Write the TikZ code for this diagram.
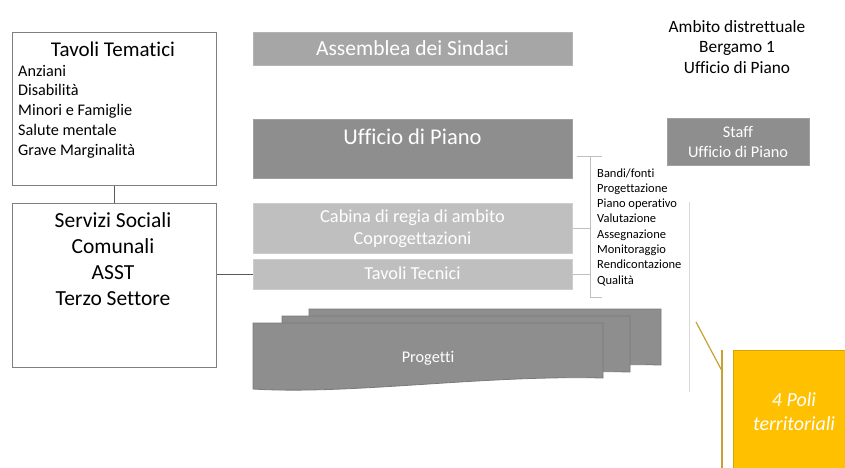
\documentclass[tikz,border=0pt]{standalone}
\usepackage{fontspec}
\setmainfont{Carlito}[Ligatures=CommonOff]
\definecolor{boxline}{HTML}{7F7F7F}
\definecolor{connc}{HTML}{595959}
\definecolor{lightc}{HTML}{BFBFBF}
\definecolor{gLL}{HTML}{D9D9D9}
\definecolor{gA}{HTML}{A6A6A6}
\definecolor{gAd}{HTML}{B4B4B4}
\definecolor{gB}{HTML}{8E8E8E}
\definecolor{gBd}{HTML}{A0A0A0}
\definecolor{gC}{HTML}{BFBFBF}
\definecolor{gCd}{HTML}{CDCDCD}
\definecolor{gP}{HTML}{8E8E8E}
\definecolor{gPd}{HTML}{7A7A7A}
\definecolor{gold}{HTML}{FFC000}
\definecolor{goldd}{HTML}{D9A400}
\definecolor{goldl}{HTML}{C9A035}
\begin{document}
\begin{tikzpicture}[x=1pt,y=-1pt,
  wbox/.style={draw=boxline, line width=1.3pt, fill=white, inner sep=0pt, anchor=north west},
  gbox/.style={inner sep=0pt, anchor=north west, line width=0.8pt},
  wtxt/.style={text=white, inner sep=0pt},
  btxt/.style={text=black, inner sep=0pt},
  conn/.style={draw=connc, line width=1pt},
  lconn/.style={draw=lightc, line width=1pt},
  goldline/.style={draw=goldl, line width=1.2pt},
  sheet/.style={fill=gP, draw=gPd, line width=0.8pt}
]
\useasboundingbox (0,0) rectangle (845,467);

% left white boxes
\node[wbox, minimum width=204pt, minimum height=153pt] (tem) at (12,32) {};
\node[btxt, anchor=base, font=\fontsize{21}{25}\selectfont] (temt) at (113,56) {Tavoli Tematici};
\node[btxt, anchor=base west, align=left, font=\fontsize{16.2}{19.75}\selectfont] (teml) at (18,155) {Anziani\\Disabilità\\Minori e Famiglie\\Salute mentale\\Grave Marginalità};

\node[wbox, minimum width=204pt, minimum height=164pt] (ser) at (12,203) {};
\node[btxt, anchor=base, align=center, font=\fontsize{21.5}{26.2}\selectfont] (sert) at (113,305.6) {Servizi Sociali\\Comunali\\ASST\\Terzo Settore};

% central grey boxes
\node[gbox, fill=gA, draw=gAd, minimum width=319pt, minimum height=33pt] (ass) at (253,32) {};
\node[wtxt, anchor=base, font=\fontsize{21.5}{26}\selectfont] (asst) at (412.5,55) {Assemblea dei Sindaci};

\node[gbox, fill=gB, draw=gBd, minimum width=319pt, minimum height=59pt] (uff) at (253,119) {};
\node[wtxt, anchor=base, font=\fontsize{22.5}{27}\selectfont] (ufft) at (412.5,144) {Ufficio di Piano};

\node[gbox, fill=gC, draw=gCd, minimum width=319pt, minimum height=50pt] (cab) at (253,203) {};
\node[wtxt, anchor=base, align=center, font=\fontsize{18.3}{22}\selectfont] (cabt) at (412.5,244) {Cabina di regia di ambito\\Coprogettazioni};

\node[gbox, fill=gC, draw=gCd, minimum width=319pt, minimum height=30pt] (tec) at (253,259) {};
\node[wtxt, anchor=base, font=\fontsize{18.3}{22}\selectfont] (tect) at (412.5,279) {Tavoli Tecnici};

% connectors left
\draw[conn] (tem.south) -- (ser.north);
\draw[conn] (ser.east |- tec.west) -- (tec.west);

% staff and title
\node[gbox, fill=gB, draw=gBd, minimum width=142pt, minimum height=47pt] (stf) at (667,118) {};
\node[wtxt, anchor=base, align=center, font=\fontsize{16.3}{20.5}\selectfont] (stft) at (738,157.5) {Staff\\Ufficio di Piano};
\node[btxt, anchor=base, align=center, font=\fontsize{17.3}{20.7}\selectfont] (amb) at (737,73.4) {Ambito distrettuale\\Bergamo 1\\Ufficio di Piano};

% bracket
\coordinate (btl) at (577,156);
\coordinate (btr) at (602,156);
\coordinate (bt) at (590,156);
\coordinate (bb) at (590,297);
\coordinate (bbr) at (602,297);
\draw[lconn] (btl) -- (btr);
\draw[lconn] (bt) -- (bb) -- (bbr);
\draw[lconn] (cab.east) -- (cab.east -| bt);
\draw[lconn] (tec.east) -- (tec.east -| bt);
\node[btxt, anchor=base west, align=left, font=\fontsize{12.5}{15.3}\selectfont] (lst) at (597,284.1) {Bandi/fonti\\Progettazione\\Piano operativo\\Valutazione\\Assegnazione\\Monitoraggio\\Rendicontazione\\Qualità};

\coordinate (v1) at (689,202);
\coordinate (v2) at (689,392);
\draw[draw=gLL, line width=1pt] (v1) -- (v2);

% progetti sheets
\foreach \L/\R/\T/\B in {309/661/309/365, 282/630/316/372, 253/603/323/378}
  \filldraw[sheet] (\L,\T) -- (\R,\T) -- (\R,\B)
    .. controls ({\R-0.35*(\R-\L)},{\B-3}) and ({\L+0.28*(\R-\L)},{\B+17}) .. (\L,{\B+11}) -- cycle;
\node[wtxt, anchor=base, font=\fontsize{16.3}{20}\selectfont] (prog) at (428,362) {Progetti};

% poli territoriali
\node[gbox, fill=gold, draw=goldd, minimum width=125pt, minimum height=130pt] (poli) at (733,350) {};
\node[wtxt, anchor=base, align=center, font=\fontsize{20}{24}\selectfont\itshape] (polit) at (794,430) {4 Poli\\territoriali};
\coordinate (g1) at (696,322);
\coordinate (g2) at (722,371);
\coordinate (g3) at (722,350);
\coordinate (g4) at (722,470);
\draw[goldline] (g1) -- (g2);
\draw[goldline] (g3) -- (g4);
\end{tikzpicture}
\end{document}
